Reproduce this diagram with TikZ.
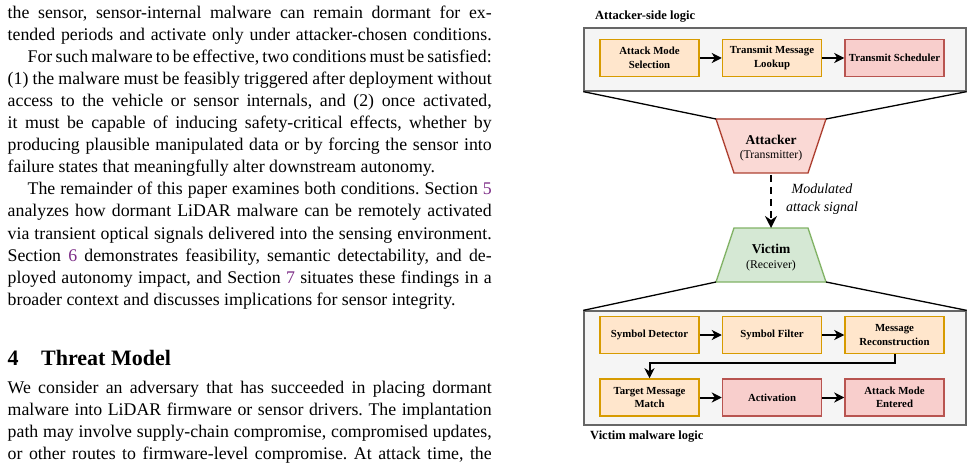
\documentclass[tikz,border=0pt]{standalone}
\usepackage{fontspec}
\setmainfont{Liberation Serif}
\usetikzlibrary{arrows.meta, positioning}
\definecolor{grpfill}{RGB}{245,245,245}
\definecolor{grpedge}{RGB}{102,102,102}
\definecolor{orgfill}{RGB}{255,230,204}
\definecolor{orgedge}{RGB}{215,155,0}
\definecolor{rfill}{RGB}{248,206,204}
\definecolor{redge}{RGB}{184,84,80}
\definecolor{atkfill}{RGB}{250,217,213}
\definecolor{atkedge}{RGB}{174,65,50}
\definecolor{vicfill}{RGB}{213,232,212}
\definecolor{vicedge}{RGB}{130,179,102}
\definecolor{linkpurple}{RGB}{125,45,135}
\newcommand{\fullline}[1]{\makebox[484pt][s]{#1}}
\newcommand{\indline}[1]{\makebox[464pt][s]{#1}}
\frenchspacing

\begin{document}
\begin{tikzpicture}[x=1pt,y=-1pt,
    bodyline/.style={anchor=base west,inner sep=0pt,font=\fontsize{17.8}{22}\selectfont},
    groupbox/.style={draw=grpedge,fill=grpfill,line width=1.3pt,minimum width=382pt,inner sep=0pt},
    stepo/.style={draw=orgedge,fill=orgfill,line width=1.5pt,minimum width=99pt,minimum height=37pt,inner sep=1pt,align=center,font=\fontsize{10.8}{13.5}\selectfont\bfseries},
    stepr/.style={stepo,draw=redge,fill=rfill},
    flow/.style={-{Stealth[length=10pt,width=10pt,inset=3pt]},line width=2pt},
    funnel/.style={line width=1.3pt},
    grplabel/.style={anchor=west,inner sep=0pt,font=\fontsize{12.5}{15}\selectfont\bfseries},
    trtitle/.style={inner sep=0pt,font=\fontsize{13.5}{16}\selectfont\bfseries},
    trsub/.style={inner sep=0pt,font=\fontsize{11.8}{14}\selectfont}]
    \fill[white] (0,0) rectangle (973,470);
    \useasboundingbox (0,0) rectangle (973,470);

    % body text
    \node[bodyline] (l1) at (7.5,19) {\fullline{the sensor, sensor-internal malware can remain dormant for ex-}};
    \node[bodyline] (l2) at (7.5,41) {\fullline{tended periods and activate only under attacker-chosen conditions.}};
    \node[bodyline] (l3) at (27.5,63) {\indline{For such malware to be effective, two conditions must be satisfied:}};
    \node[bodyline] (l4) at (7.5,85) {\fullline{(1) the malware must be feasibly triggered after deployment without}};
    \node[bodyline] (l5) at (7.5,107) {\fullline{access to the vehicle or sensor internals, and (2) once activated,}};
    \node[bodyline] (l6) at (7.5,129) {\fullline{it must be capable of inducing safety-critical effects, whether by}};
    \node[bodyline] (l7) at (7.5,151) {\fullline{producing plausible manipulated data or by forcing the sensor into}};
    \node[bodyline] (l8) at (7.5,173) {failure states that meaningfully alter downstream autonomy.};
    \node[bodyline] (l9) at (27.5,195) {\indline{The remainder of this paper examines both conditions. Section \textcolor{linkpurple}{5}}};
    \node[bodyline] (l10) at (7.5,217) {\fullline{analyzes how dormant LiDAR malware can be remotely activated}};
    \node[bodyline] (l11) at (7.5,239) {\fullline{via transient optical signals delivered into the sensing environment.}};
    \node[bodyline] (l12) at (7.5,261) {\fullline{Section \textcolor{linkpurple}{6} demonstrates feasibility, semantic detectability, and de-}};
    \node[bodyline] (l13) at (7.5,283) {\fullline{ployed autonomy impact, and Section \textcolor{linkpurple}{7} situates these findings in a}};
    \node[bodyline] (l14) at (7.5,305) {broader context and discusses implications for sensor integrity.};

    % section heading
    \node[bodyline,font=\fontsize{22}{26}\selectfont\bfseries] (secnum) at (7.5,365) {4};
    \node[bodyline,font=\fontsize{22}{26}\selectfont\bfseries] (sectitle) at (41,365) {Threat Model};

    \node[bodyline] (l15) at (7.5,393) {\fullline{We consider an adversary that has succeeded in placing dormant}};
    \node[bodyline] (l16) at (7.5,415) {\fullline{malware into LiDAR firmware or sensor drivers. The implantation}};
    \node[bodyline] (l17) at (7.5,437) {\fullline{path may involve supply-chain compromise, compromised updates,}};
    \node[bodyline] (l18) at (7.5,459) {\fullline{or other routes to firmware-level compromise. At attack time, the}};

    % attacker-side group
    \node[grplabel] (atklabel) at (595,17) {Attacker-side logic};
    \node[groupbox,minimum height=63pt] (atkgroup) at (775,59.5) {};
    \node[stepo] (modesel) at (649.5,58) {Attack Mode\\Selection};
    \node[stepo,right=22pt of modesel] (msglookup) {Transmit Message\\Lookup};
    \node[stepr,right=22pt of msglookup] (txsched) {Transmit Scheduler};
    \draw[flow] (modesel) -- (msglookup);
    \draw[flow] (msglookup) -- (txsched);

    % attacker (transmitter)
    \coordinate (atl) at (716,119);
    \coordinate (atr) at (826,119);
    \coordinate (abr) at (808,173);
    \coordinate (abl) at (734,173);
    \filldraw[fill=atkfill,draw=atkedge,line width=1.3pt] (atl) -- (atr) -- (abr) -- (abl) -- cycle;
    \node[trtitle] (attacker) at (771,139.5) {Attacker};
    \node[trsub] (attackersub) at (771,156) {(Transmitter)};
    \draw[funnel] (atkgroup.south west) -- (atl);
    \draw[funnel] (atkgroup.south east) -- (atr);

    % victim (receiver)
    \coordinate (vtl) at (734,228);
    \coordinate (vtr) at (808,228);
    \coordinate (vbr) at (826,282);
    \coordinate (vbl) at (716,282);
    \filldraw[fill=vicfill,draw=vicedge,line width=1.3pt] (vtl) -- (vtr) -- (vbr) -- (vbl) -- cycle;
    \node[trtitle] (victim) at (771,249) {Victim};
    \node[trsub] (victimsub) at (771,265.5) {(Receiver)};

    % attack signal
    \coordinate (atkbot) at (771,173);
    \coordinate (victop) at (771,228);
    \draw[-{Stealth[length=12pt,width=12pt,inset=4pt]},line width=2.6pt,dash pattern=on 7pt off 5pt,shorten <=2pt] (atkbot) -- (victop);
    \node[align=center,inner sep=0pt,font=\fontsize{14}{18}\selectfont\itshape] (siglabel) at (822,199) {Modulated\\attack signal};

    % victim-side group
    \node[groupbox,minimum height=114pt] (vicgroup) at (775,368) {};
    \draw[funnel] (vbl) -- (vicgroup.north west);
    \draw[funnel] (vbr) -- (vicgroup.north east);
    \node[stepo] (symdet) at (649.5,335) {Symbol Detector};
    \node[stepo,right=22pt of symdet] (symfilt) {Symbol Filter};
    \node[stepo,right=22pt of symfilt] (msgrec) {Message\\Reconstruction};
    \node[stepo] (tgtmatch) at (649.5,397.5) {Target Message\\Match};
    \node[stepr,right=22pt of tgtmatch] (activ) {Activation};
    \node[stepr,right=22pt of activ] (modeent) {Attack Mode\\Entered};
    \draw[flow] (symdet) -- (symfilt);
    \draw[flow] (symfilt) -- (msgrec);
    \draw[flow] (msgrec.south) -- ++(0,9) -| (tgtmatch.north);
    \draw[flow] (tgtmatch) -- (activ);
    \draw[flow] (activ) -- (modeent);
    \node[grplabel] (viclabel) at (590,437) {Victim malware logic};
\end{tikzpicture}
\end{document}
